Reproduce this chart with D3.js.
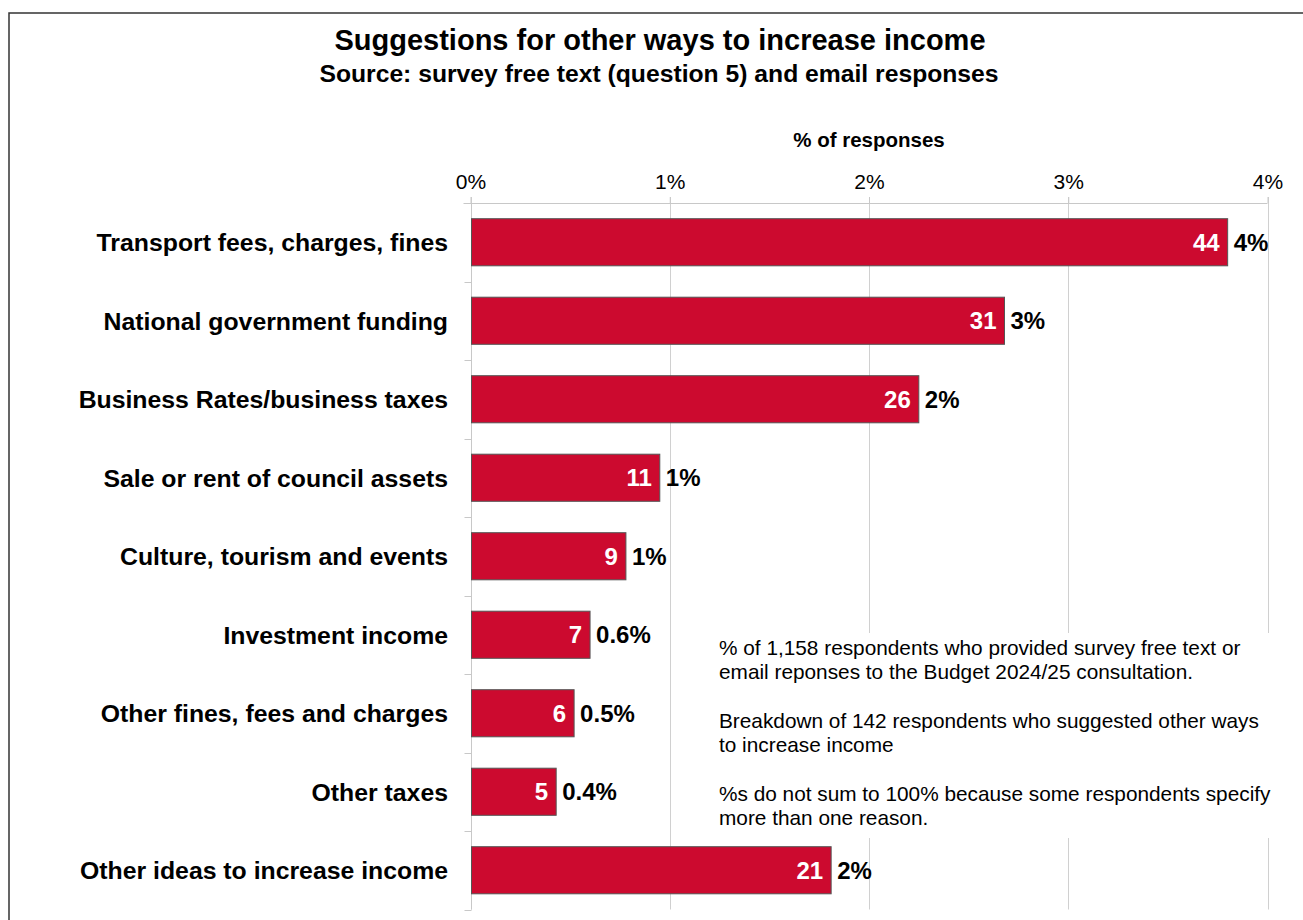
<!DOCTYPE html>
<html>
<head>
<meta charset="utf-8">
<script src="https://cdn.jsdelivr.net/npm/d3@7"></script>
<style>
html, body { margin: 0; padding: 0; background: #fff; }
svg { display: block; font-family: "Liberation Sans", Arial, sans-serif; }
</style>
</head>
<body>
<svg id="chart" width="1303" height="920"></svg>
<script>
const categories = [
  "Transport fees, charges, fines",
  "National government funding",
  "Business Rates/business taxes",
  "Sale or rent of council assets",
  "Culture, tourism and events",
  "Investment income",
  "Other fines, fees and charges",
  "Other taxes",
  "Other ideas to increase income"
];
const counts = [44, 31, 26, 11, 9, 7, 6, 5, 21];
const percents = [3.80, 2.68, 2.25, 0.95, 0.78, 0.60, 0.52, 0.43, 1.81];
const percentLabels = ["4%", "3%", "2%", "1%", "1%", "0.6%", "0.5%", "0.4%", "2%"];
const xTicks = [0, 1, 2, 3, 4];
const noteLines = [
  "% of 1,158 respondents who provided survey free text or",
  "email reponses to the Budget 2024/25 consultation.",
  "",
  "Breakdown of 142 respondents who suggested other ways",
  "to increase income",
  "",
  "%s do not sum to 100% because some respondents specify",
  "more than one reason."
];

(function () {
const svg = d3.select("#chart");
const pLeft = 470.5, pRight = 1267.5, pTop = 203, pBottom = 909.5;

const x = d3.scaleLinear().domain([0, 4]).range([pLeft, pRight]);
const y = d3.scaleBand().domain(categories).range([pTop, pBottom]).paddingInner(0.4).paddingOuter(0.2);

// frame
svg.append("path").attr("d", `M9,920 L9,13 L1303,13`).attr("fill", "none")
  .attr("stroke", "#333").attr("stroke-width", 1.5);

// title
svg.append("text").attr("x", 660).attr("y", 50).attr("text-anchor", "middle")
  .attr("font-size", 29).attr("font-weight", "bold").attr("fill", "#000")
  .text("Suggestions for other ways to increase income");
svg.append("text").attr("x", 659).attr("y", 82).attr("text-anchor", "middle")
  .attr("font-size", 24.7).attr("font-weight", "bold").attr("fill", "#000")
  .text("Source: survey free text (question 5) and email responses");

// axis title
svg.append("text").attr("x", (pLeft + pRight) / 2).attr("y", 147).attr("text-anchor", "middle")
  .attr("font-size", 20.5).attr("font-weight", "bold").attr("fill", "#000")
  .text("% of responses");

// gridlines
svg.append("g").selectAll("line").data(xTicks).join("line")
  .attr("x1", d => Math.round(x(d)) + 0.5).attr("x2", d => Math.round(x(d)) + 0.5)
  .attr("y1", 197).attr("y2", pBottom)
  .attr("stroke", "#d0d0d0").attr("stroke-width", 1);

// top axis
const xAxis = d3.axisTop(x).tickValues(xTicks).tickFormat(d => d + "%").tickSize(6).tickPadding(8);
const gx = svg.append("g").attr("transform", `translate(0,${pTop})`).call(xAxis);
gx.select(".domain").attr("stroke", "#c8c8c8").attr("d", `M${pLeft - 7},0.5H${pRight}`);
gx.selectAll(".tick line").attr("stroke", "#c8c8c8");
gx.selectAll(".tick text").attr("font-size", 21).attr("fill", "#000")
  .attr("font-family", "Liberation Sans, Arial, sans-serif");

// left axis
const yAxisLine = svg.append("g");
yAxisLine.append("line").attr("x1", pLeft + 1).attr("x2", pLeft + 1).attr("y1", pTop).attr("y2", pBottom)
  .attr("stroke", "#c8c8c8");
const boundaries = d3.range(categories.length + 1).map(i => pTop + i * y.step());
yAxisLine.selectAll("line.tk").data(boundaries).join("line").attr("class", "tk")
  .attr("x1", pLeft - 6).attr("x2", pLeft + 1)
  .attr("y1", d => Math.round(d) + 0.5).attr("y2", d => Math.round(d) + 0.5)
  .attr("stroke", "#c8c8c8");

// note box (white, hides gridlines)
svg.append("rect").attr("x", 712).attr("y", 633).attr("width", 580).attr("height", 205).attr("fill", "#fff");
const note = svg.append("text").attr("font-size", 20.8).attr("fill", "#000");
noteLines.forEach((t, i) => {
  note.append("tspan").attr("x", 719).attr("y", 655 + i * 24.3).text(t);
});

// bars
const data = categories.map((c, i) => ({ c, n: counts[i], p: percents[i], lab: percentLabels[i] }));
const bars = svg.append("g");
bars.selectAll("rect").data(data).join("rect")
  .attr("x", pLeft + 1).attr("y", d => y(d.c))
  .attr("width", d => x(d.p) - pLeft - 1).attr("height", y.bandwidth())
  .attr("fill", "#cc0a2f").attr("stroke", "#555").attr("stroke-width", 1);

// count labels inside
bars.selectAll("text.cnt").data(data).join("text").attr("class", "cnt")
  .attr("x", d => x(d.p) - 8).attr("y", d => y(d.c) + y.bandwidth() / 2)
  .attr("dy", "0.36em").attr("text-anchor", "end")
  .attr("font-size", 24).attr("font-weight", "bold").attr("fill", "#fff")
  .text(d => d.n);

// percent labels outside
bars.selectAll("text.pct").data(data).join("text").attr("class", "pct")
  .attr("x", d => x(d.p) + 6).attr("y", d => y(d.c) + y.bandwidth() / 2)
  .attr("dy", "0.36em").attr("text-anchor", "start")
  .attr("font-size", 24).attr("font-weight", "bold").attr("fill", "#000")
  .text(d => d.lab);

// category labels
svg.append("g").selectAll("text").data(categories).join("text")
  .attr("x", 448).attr("y", d => y(d) + y.bandwidth() / 2)
  .attr("dy", "0.36em").attr("text-anchor", "end")
  .attr("font-size", 24.8).attr("font-weight", "bold").attr("fill", "#000")
  .text(d => d);
})();
</script>
</body>
</html>
